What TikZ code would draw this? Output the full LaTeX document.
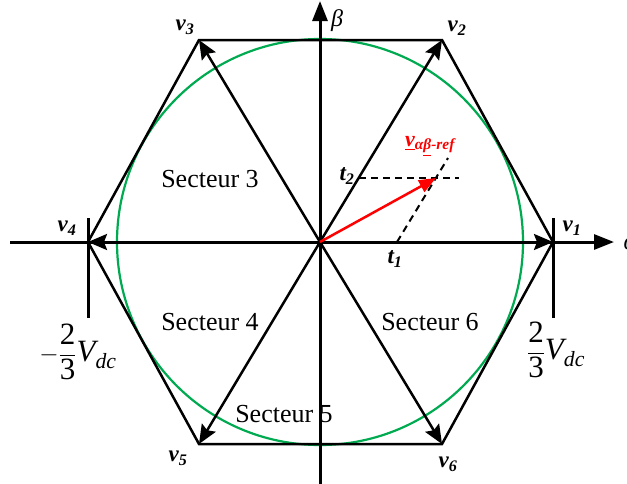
\documentclass[tikz,border=0pt]{standalone}
\usepackage{amsmath}
\usepackage{fontspec}
\setmainfont{Liberation Serif}
\usetikzlibrary{arrows.meta}
\definecolor{hexgreen}{RGB}{0,170,80}
\definecolor{refred}{RGB}{255,0,0}
\begin{document}
\begin{tikzpicture}[x=1pt,y=-1pt,
  axisline/.style={line width=3pt,-{Triangle[length=20pt,width=15pt]}},
  hexedge/.style={line width=2.5pt,line join=miter},
  spoke/.style={line width=2.5pt,-{Stealth[length=19pt,width=16pt,inset=3pt]}},
  tickline/.style={line width=3pt},
  vlab/.style={font=\fontsize{23}{25}\selectfont\bfseries\itshape,inner sep=0pt},
  sect/.style={font=\fontsize{26}{28}\selectfont,inner sep=0pt},
  fraclab/.style={font=\fontsize{31}{33}\selectfont,inner sep=0pt},
  dashref/.style={line width=2pt,dash pattern=on 7pt off 5pt}]
\useasboundingbox (0,0) rectangle (627,483);
% points
\coordinate (O) at (320,242);
\coordinate (V1) at (553,242);
\coordinate (V2) at (442,40);
\coordinate (V3) at (199,40);
\coordinate (V4) at (88,242);
\coordinate (V5) at (199,444);
\coordinate (V6) at (442,444);
\coordinate (aL) at (10,242);
\coordinate (aR) at (614,242);
\coordinate (bB) at (320,485);
\coordinate (bT) at (320,1);
% circle
\draw[hexgreen,line width=2.2pt] (O) circle[radius=203];
% hexagon
\draw[hexedge] (V1) -- (V2) -- (V3) -- (V4) -- (V5) -- (V6) -- cycle;
% axes
\draw[axisline] (aL) -- (aR);
\draw[axisline] (bB) -- (bT);
% ticks
\coordinate (T4a) at (88,218); \coordinate (T4b) at (88,318);
\coordinate (T1a) at (553,218); \coordinate (T1b) at (553,318);
\draw[tickline] (T4a) -- (T4b);
\draw[tickline] (T1a) -- (T1b);
% spokes
\foreach \v in {V1,V2,V3,V4,V5,V6}{\draw[spoke] (O) -- (\v);}
% dashed projections
\coordinate (t2s) at (359,178);
\coordinate (t2e) at (459,178);
\coordinate (t1s) at (397,242);
\coordinate (t1e) at (448,158);
\coordinate (Ref) at (436,178);
\draw[dashref] (t2s) -- (t2e);
\draw[dashref] (t1s) -- (t1e);
\draw[refred,line width=2.5pt,-{Triangle[length=17pt,width=13pt]}] (O) -- (Ref);
% labels
\node[vlab] (lv1) at (572,228) {v\textsubscript{1}};
\node[vlab] (lv2) at (457,28) {v\textsubscript{2}};
\node[vlab] (lv3) at (185,27) {v\textsubscript{3}};
\node[vlab] (lv4) at (67,228) {v\textsubscript{4}};
\node[vlab] (lv5) at (178,458) {v\textsubscript{5}};
\node[vlab] (lv6) at (448,464) {v\textsubscript{6}};
\node[vlab] (lt2) at (347,176) {t\textsubscript{2}};
\node[vlab] (lt1) at (395,259) {t\textsubscript{1}};
\node[vlab,font=\fontsize{24}{26}\selectfont\itshape] (lbeta) at (337,21) {β};
\node[vlab,font=\fontsize{24}{26}\selectfont\itshape] (lalpha) at (630,244) {α};
\node[vlab,refred,font=\fontsize{22}{24}\selectfont\bfseries\itshape] (lref) at (430,146) {\underline{v}\textsubscript{α\underline{β}-ref}};
\node[sect] (s3) at (210,179) {Secteur 3};
\node[sect] (s4) at (210,322) {Secteur 4};
\node[sect] (s6) at (430,322) {Secteur 6};
\node[sect] (s5) at (284,414) {Secteur 5};
\node[fraclab] (fl) at (78,352) {$-\dfrac{\text{2}}{\text{3}}\textit{V}_{\textit{dc}}$};
\node[fraclab] (fr) at (556,350) {$\dfrac{\text{2}}{\text{3}}\textit{V}_{\textit{dc}}$};
\end{tikzpicture}
\end{document}
